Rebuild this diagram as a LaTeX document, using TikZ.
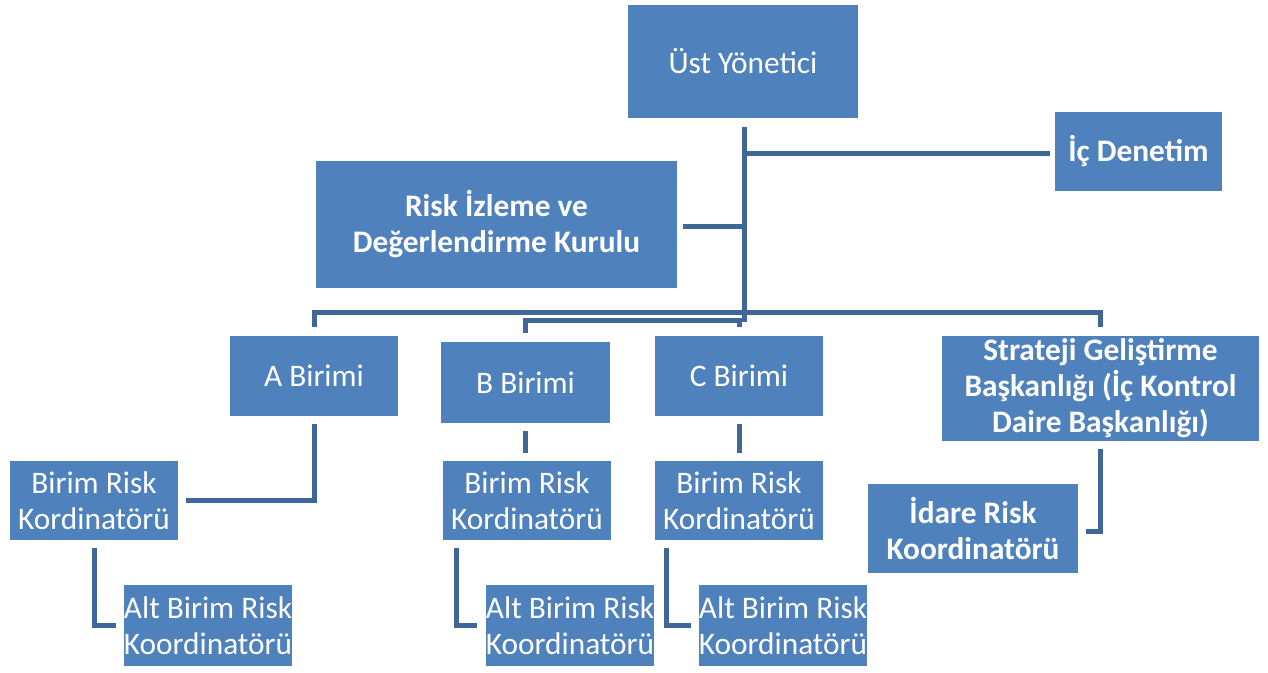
\documentclass[tikz,border=0pt]{standalone}
\usepackage{fontspec}
\setmainfont{Carlito}
\usetikzlibrary{calc}
\definecolor{boxblue}{HTML}{4F81BD}
\definecolor{linkblue}{HTML}{3F6899}
\tikzset{
  orgbox/.style={draw=none, fill=boxblue, text=white, align=center, inner sep=0pt,
    font=\fontsize{23.5}{27}\selectfont},
  orgbold/.style={orgbox, font=\fontsize{23.5}{27}\selectfont\bfseries},
  conn/.style={draw=linkblue, line width=3.75pt, line cap=butt, line join=miter}
}
\begin{document}
\begin{tikzpicture}[x=0.75pt, y=-0.75pt]
\useasboundingbox (0,0) rectangle (1268,672);

% top level
\node[orgbox, minimum width=230*0.75pt, minimum height=113*0.75pt] (ust) at (743,61.5) {Üst Yönetici};
\node[orgbold, minimum width=167*0.75pt, minimum height=79*0.75pt] (icd) at (1138.5,151.5) {İç Denetim};
\node[orgbold, minimum width=361*0.75pt, minimum height=127*0.75pt] (risk) at (496.5,224.5) {Risk İzleme ve\\Değerlendirme Kurulu};

% units
\node[orgbox, minimum width=168*0.75pt, minimum height=80*0.75pt] (abir) at (314,376) {A Birimi};
\node[orgbox, minimum width=169*0.75pt, minimum height=81*0.75pt] (bbir) at (525.5,382.5) {B Birimi};
\node[orgbox, minimum width=168*0.75pt, minimum height=80*0.75pt] (cbir) at (739,376) {C Birimi};
\node[orgbold, minimum width=317*0.75pt, minimum height=105*0.75pt] (strat) at (1100.5,388.5) {Strateji Geliştirme\\Başkanlığı (İç Kontrol\\Daire Başkanlığı)};

% unit risk coordinators
\node[orgbox, minimum width=168*0.75pt, minimum height=79*0.75pt] (bra) at (94,500.5) {Birim Risk\\Kordinatörü};
\node[orgbox, minimum width=168*0.75pt, minimum height=79*0.75pt] (brb) at (527,500.5) {Birim Risk\\Kordinatörü};
\node[orgbox, minimum width=168*0.75pt, minimum height=79*0.75pt] (brc) at (739,500.5) {Birim Risk\\Kordinatörü};
\node[orgbold, minimum width=210*0.75pt, minimum height=89*0.75pt] (idare) at (973,528.5) {İdare Risk\\Koordinatörü};

% sub-unit risk coordinators
\node[orgbox, minimum width=168*0.75pt, minimum height=81*0.75pt] (alta) at (208,625.5) {Alt Birim Risk\\Koordinatörü};
\node[orgbox, minimum width=168*0.75pt, minimum height=81*0.75pt] (altb) at (570,625.5) {Alt Birim Risk\\Koordinatörü};
\node[orgbox, minimum width=168*0.75pt, minimum height=81*0.75pt] (altc) at (783,625.5) {Alt Birim Risk\\Koordinatörü};

% main trunk and side branches
\coordinate (trk) at ($(ust.south)+(1,0)$);
\draw[conn] ($(trk)+(0,9)$) -- ($(trk)+(0,204)$);
\draw[conn] ($(icd.west)+(-5,1.5)$) -- ($(trk |- icd.west)+(0,1.5)$);
\draw[conn] ($(risk.east)+(6,1.5)$) -- ($(trk |- risk.east)+(0,1.5)$);

% buses to the units
\draw[conn] ($(abir.north)+(0,-9)$) |- ($(strat.north)+(0,-23)$) -- ($(strat.north)+(0,-9)$);
\draw[conn] ($(bbir.north)+(0,-9)$) |- ($(cbir.north)+(0,-15)$) -- ($(cbir.north)+(0,-9)$);

% units to their risk coordinators
\draw[conn] ($(abir.south)+(0,8)$) |- ($(bra.east)+(8,0)$);
\draw[conn] ($(bbir.south)+(0,8)$) -- ($(bbir.south |- brb.north)+(0,-8)$);
\draw[conn] ($(cbir.south)+(0,8)$) -- ($(cbir.south |- brc.north)+(0,-8)$);
\draw[conn] ($(strat.south)+(0,8)$) |- ($(idare.east)+(8,2.5)$);

% coordinators to sub-unit coordinators
\draw[conn] ($(alta.west)+(-8,0)$) -| ($(alta.west |- bra.south)+(-29,8)$);
\draw[conn] ($(altb.west)+(-9,0)$) -| ($(altb.west |- brb.south)+(-29,8)$);
\draw[conn] ($(altc.west)+(-8,0)$) -| ($(altc.west |- brc.south)+(-32,8)$);
\end{tikzpicture}
\end{document}
